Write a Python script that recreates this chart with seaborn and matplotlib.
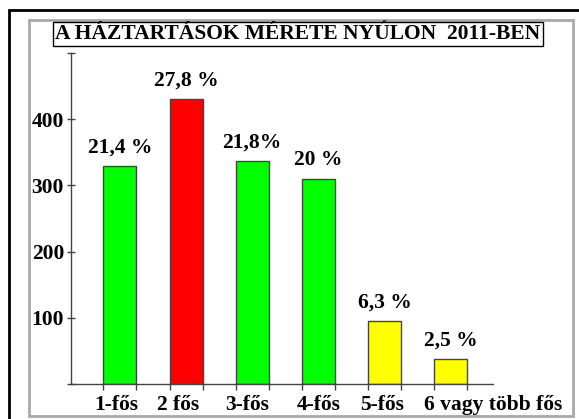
import numpy as np
import matplotlib
matplotlib.use('Agg')
import matplotlib.pyplot as plt
import matplotlib.transforms as mtransforms
from matplotlib.patches import Rectangle
import seaborn as sns

# data
categories = ['1-fős', '2 fős', '3-fős', '4-fős', '5-fős', '6 vagy több fős']
households = [330, 430, 337, 310, 95, 38]
pct_labels = ['21,4 %', '27,8 %', '21,8%', '20 %', '6,3 %', '2,5 %']
bar_colors = ['#00ff00', '#ff0000', '#00ff00', '#00ff00', '#ffff00', '#ffff00']
y_ticks = [0, 100, 200, 300, 400, 500]
y_ticklabels = ['', '100', '200', '300', '400', '']
title = 'A HÁZTARTÁSOK MÉRETE NYÚLON  2011-BEN'

sns.set_style('white')
plt.rcParams['font.family'] = ['Liberation Serif', 'DejaVu Serif']
plt.rcParams['font.weight'] = 'bold'
plt.rcParams['text.color'] = 'black'
plt.rcParams['xtick.labelcolor'] = 'black'
plt.rcParams['ytick.labelcolor'] = 'black'
FS = 15.5

W, H = 579, 419
fig = plt.figure(figsize=(W / 100, H / 100), dpi=100)


def px(x, y):
    # pixel coords (top-left origin) -> figure fraction
    return x / W, 1 - y / H


# outer black frame and inner grey frame
fig.patches.append(Rectangle(px(9, 430), 600 / W, 420 / H, transform=fig.transFigure,
                             fill=False, edgecolor='black', linewidth=2))
fig.patches.append(Rectangle(px(29, 416), 544 / W, 396 / H, transform=fig.transFigure,
                             fill=False, edgecolor='#a8a8a8', linewidth=2))

left, bottom = px(71, 384)
ax = fig.add_axes([left, bottom, 422 / W, 331 / H])

sns.barplot(x=categories, y=households, hue=categories, palette=bar_colors,
            saturation=1, legend=False, width=0.5, edgecolor='#444444',
            linewidth=1, ax=ax)

for cont, lab in zip(ax.containers, pct_labels):
    ax.bar_label(cont, labels=[lab], padding=6, fontsize=FS, fontweight='bold',
                 color='black')

ax.set_xlim(-0.74, 5.64)
ax.set_ylim(0, 500)
ax.set_yticks(y_ticks)
ax.set_yticklabels(y_ticklabels)
ax.set_xlabel('')
ax.set_ylabel('')

# tick marks at the bar edges, labels at the centres
pos = np.arange(len(categories))
ax.set_xticks(pos)
ax.set_xticklabels(categories)
ax.set_xticks(np.concatenate([pos - 0.25, pos + 0.25]), minor=True)
ax.tick_params(axis='x', which='major', bottom=True, length=0, pad=8, labelsize=FS)
ax.tick_params(axis='x', which='minor', bottom=True, length=4, width=1,
               direction='out', color='#444444')
ax.tick_params(axis='y', left=True, length=6, width=1, direction='inout', pad=2,
               labelsize=FS, color='#444444')

label_shift = [-4, -8, -5, 0, -2, 42]
for lbl, dx in zip(ax.get_xticklabels(), label_shift):
    lbl.set_transform(lbl.get_transform() + mtransforms.ScaledTranslation(dx / 100, 0, fig.dpi_scale_trans))

for side in ['top', 'right']:
    ax.spines[side].set_visible(False)
for side in ['left', 'bottom']:
    ax.spines[side].set_color('#444444')
    ax.spines[side].set_linewidth(1)

tx, ty = px(298, 34)
fig.text(tx, ty, title, ha='center', va='center', fontsize=FS, fontweight='bold',
         color='black',
         bbox=dict(boxstyle='square,pad=0.1', facecolor='white', edgecolor='black', linewidth=1))

fig.savefig('out.png', dpi=100)
